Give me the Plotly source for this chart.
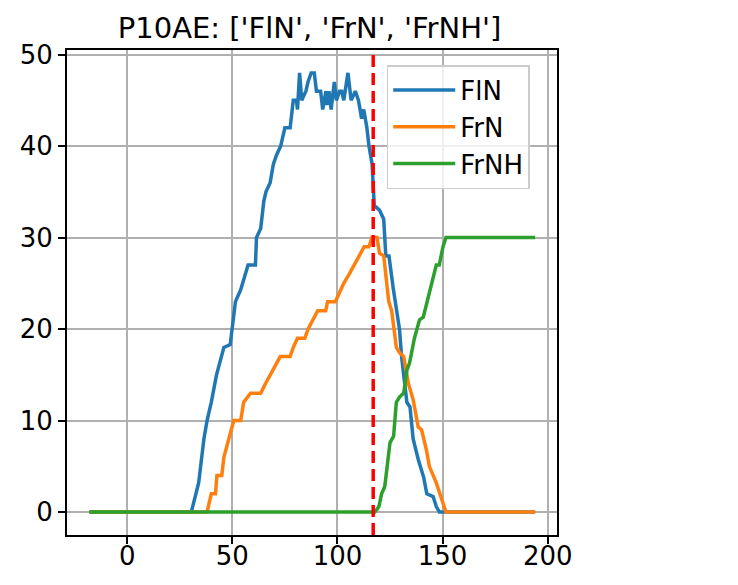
import plotly.graph_objects as go

title = "P10AE: ['FlN', 'FrN', 'FrNH']"
split_x = 117

fln_x = [-18, 30.5, 34, 36.5, 38, 40, 42.5, 46, 49, 50, 51.5, 54, 56, 57.5, 61, 61.5,
         63.5, 65, 66, 68, 69.5, 71, 73, 75, 77.5, 79, 80.5, 81, 82, 83, 85, 86, 87.5,
         89, 90, 92, 93, 94.5, 95, 96, 97, 98.5, 99.5, 101, 102, 103, 105, 106.5, 108.5,
         110, 111.5, 112.5, 114, 115, 116.5, 117.5, 120, 122, 123, 124.5, 126.5, 129.5,
         130.5, 133, 134.5, 136, 138.5, 141, 142.5, 145.5, 147, 148.5, 194]
fln_y = [0, 0, 3.2, 8, 10, 12, 15, 18, 18.3, 20, 23, 24.3, 26, 27, 27, 30,
         31, 34, 35, 36, 38, 39, 40, 42, 42, 45, 45, 44, 48, 45, 46, 47, 48,
         48, 46, 46, 44, 46, 44.5, 46, 44, 47, 45, 46, 46, 45, 48, 45, 46,
         45, 43, 44, 42, 40, 38, 33.5, 33, 32, 28, 28, 24.5, 20,
         17, 12, 11.5, 8, 5.7, 3.8, 2, 1.7, 0.6, 0, 0]

frn_x = [-18, 38, 40, 42, 42.7, 45, 46, 48.4, 50.7, 54, 55.4, 58.7, 63.5, 65.7, 68,
         70.4, 72.8, 77.5, 79, 81, 84.5, 86, 88.3, 90.6, 94.4, 95.3, 99, 101, 103, 105.6,
         108, 110.3, 112.7, 115, 116.4, 118.8, 120, 122, 124.4, 125.8, 128, 129.6, 131.5,
         133.8, 136, 138.4, 140, 142.3, 143.7, 147, 149.3, 151.6, 194]
frn_y = [0, 0, 2, 2, 4, 4, 6, 8, 10, 10, 12, 13, 13, 14, 15,
         16, 17, 17, 18, 19, 19, 20, 21, 22, 22, 23, 23, 24, 25, 26,
         27, 28, 29, 29, 30, 30, 28.3, 28, 23, 22, 18, 17.4, 17,
         14, 12.3, 9.3, 9, 6.8, 5, 3.2, 1.7, 0, 0]

frnh_x = [-18, 117.8, 119.7, 121, 122.5, 125, 126.7, 128, 129.6, 131.5, 133, 134.3,
          136.6, 139, 140.8, 143.2, 144.6, 147, 148.4, 150.2, 151.6, 194]
frnh_y = [0, 0, 0.6, 2, 2.8, 7.6, 8.3, 12, 12.6, 13, 15.5, 16.3,
          19, 21, 21.3, 23.5, 25, 27, 27, 29, 30, 30]

fig = go.Figure()
fig.add_trace(go.Scatter(x=fln_x, y=fln_y, mode="lines", name="FlN",
                         line=dict(color="#1f77b4", width=3.5)))
fig.add_trace(go.Scatter(x=frn_x, y=frn_y, mode="lines", name="FrN",
                         line=dict(color="#ff7f0e", width=3.5)))
fig.add_trace(go.Scatter(x=frnh_x, y=frnh_y, mode="lines", name="FrNH",
                         line=dict(color="#2ca02c", width=3.5)))

fig.add_vline(x=split_x, line=dict(color="red", width=3.5, dash="12px,6px"))

axis_style = dict(showline=True, mirror=True, linecolor="black", linewidth=1.8,
                  ticks="outside", ticklen=7, tickwidth=1.8, tickcolor="black",
                  showgrid=True, gridcolor="#b0b0b0", gridwidth=2, zeroline=False)

# the page body adds an 8px offset, so the figure is a bit smaller than the window
fig.update_layout(
    width=730, height=577,
    margin=dict(l=54, r=181, t=42, b=50),
    plot_bgcolor="white", paper_bgcolor="white",
    font=dict(family="DejaVu Sans", size=26, color="black"),
    title=dict(text=title, x=(54 + 495 / 2) / 730, xanchor="center",
               y=0.966, yanchor="middle", font=dict(size=29)),
    xaxis=dict(range=[-28.6, 204.4], tickvals=[0, 50, 100, 150, 200],
               ticklabelstandoff=-10, **axis_style),
    yaxis=dict(range=[-2.5, 50.5], tickvals=[0, 10, 20, 30, 40, 50], **axis_style),
    legend=dict(x=0.6525, y=0.969, xanchor="left", yanchor="top", itemwidth=62,
                bgcolor="rgba(255,255,255,0.8)", bordercolor="#cccccc", borderwidth=1.5,
                font=dict(size=26)),
)

fig.write_html("out.html")
